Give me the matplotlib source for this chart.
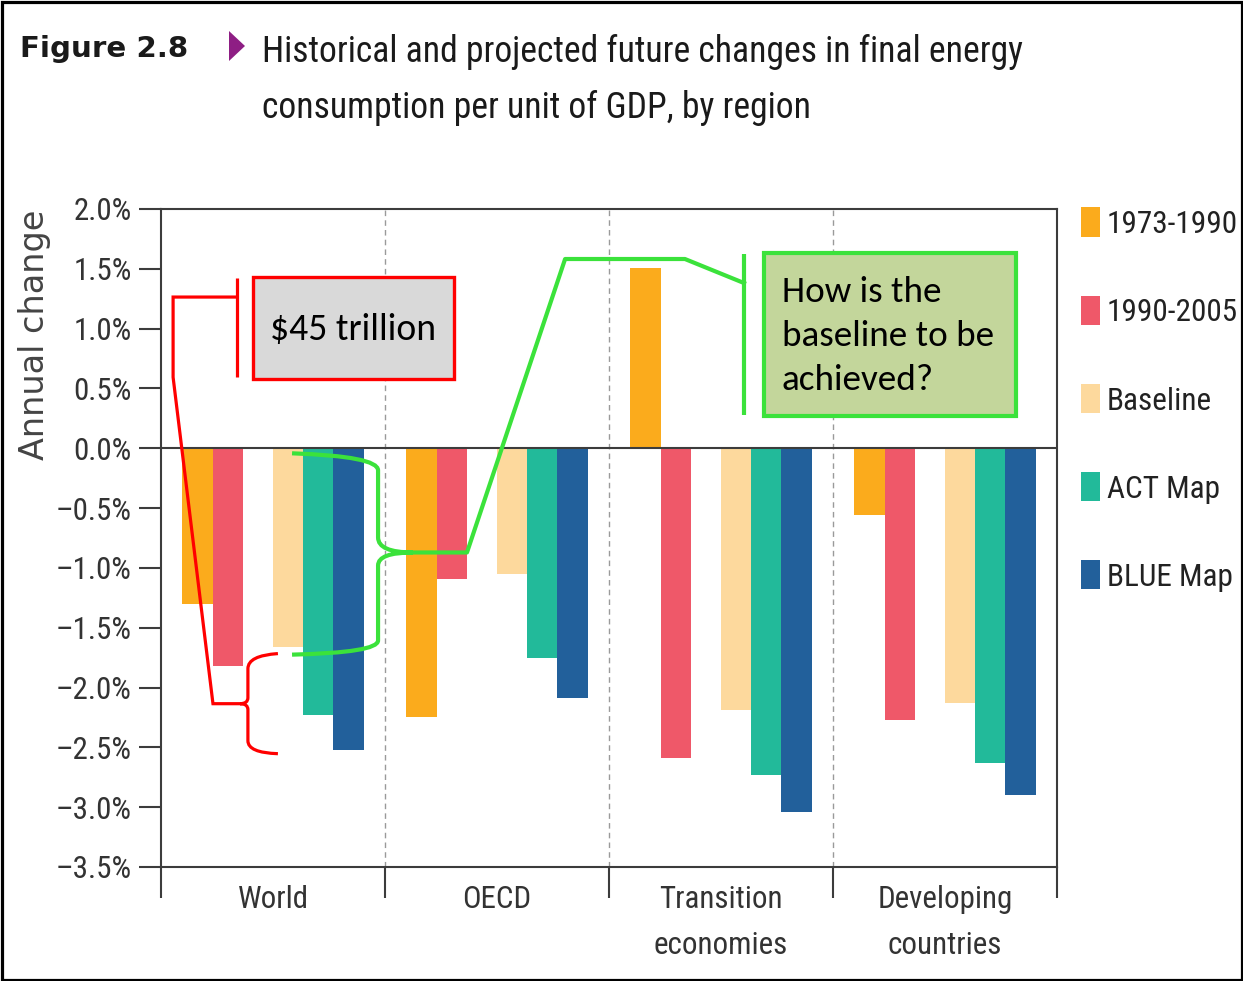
import os
import numpy as np
import matplotlib
matplotlib.use('Agg')
import matplotlib.pyplot as plt
from matplotlib import font_manager as fm
from matplotlib.patches import Rectangle, Polygon, PathPatch
from matplotlib.path import Path

# ---------------- data ----------------
categories = ['World', 'OECD', 'Transition\neconomies', 'Developing\ncountries']
series_names = ['1973-1990', '1990-2005', 'Baseline', 'ACT Map', 'BLUE Map']
v_1973_1990 = [-1.30, -2.25, 1.51, -0.56]
v_1990_2005 = [-1.82, -1.09, -2.59, -2.27]
v_baseline = [-1.66, -1.05, -2.19, -2.13]
v_act_map = [-2.23, -1.75, -2.73, -2.63]
v_blue_map = [-2.52, -2.09, -3.04, -2.90]
series_values = [v_1973_1990, v_1990_2005, v_baseline, v_act_map, v_blue_map]
colors = ['#FBAB1C', '#EF5869', '#FDD99D', '#22BA9A', '#22609B']
y_ticks = [2.0, 1.5, 1.0, 0.5, 0.0, -0.5, -1.0, -1.5, -2.0, -2.5, -3.0, -3.5]
y_tick_labels = ['2.0%', '1.5%', '1.0%', '0.5%', '0.0%', '\u20130.5%', '\u20131.0%',
                 '\u20131.5%', '\u20132.0%', '\u20132.5%', '\u20133.0%', '\u20133.5%']
title_tag = 'Figure 2.8'
title_lines = ['Historical and projected future changes in final energy',
               'consumption per unit of GDP, by region']
y_label = 'Annual change'
note_red = '$45 trillion'
note_green = ['How is the', 'baseline to be', 'achieved?']

# ---------------- fonts ----------------
names = {f.name for f in fm.fontManager.ttflist}


def pick_condensed():
    prefs = ['Liberation Sans Narrow', 'Open Sans', 'Roboto', 'Noto Sans', 'DejaVu Sans', 'Lato', 'Inter']
    cands = []
    bad = ['bold', 'light', 'italic', 'oblique', 'medium', 'semibold', 'thin', 'black', 'extra', 'ultra', 'heavy']
    for f in fm.fontManager.ttflist:
        st = str(f.stretch).lower()
        base = os.path.basename(f.fname).lower()
        nm = f.name.lower()
        cond = ('condensed' in st or 'narrow' in st or 'condensed' in nm or 'narrow' in nm
                or 'condensed' in base or 'narrow' in base)
        if not cond:
            continue
        if f.style != 'normal' or any(b in base for b in bad) or 'extra' in st or 'ultra' in st:
            continue
        try:
            w = int(f.weight)
        except Exception:
            w = {'normal': 400, 'regular': 400, 'book': 400}.get(str(f.weight).lower(), 700)
        if w != 400:
            continue
        rank = len(prefs)
        for i, p in enumerate(prefs):
            if f.name.startswith(p):
                rank = i
                break
        semi = 1 if ('semi' in st or 'semi' in base) else 0
        cands.append((rank, semi, f.fname))
    if cands:
        cands.sort()
        return fm.FontProperties(fname=cands[0][2])
    return fm.FontProperties(family='DejaVu Sans')


fp_cond = pick_condensed()
fp_cal = fm.FontProperties(family='Carlito' if 'Carlito' in names else ('Lato' if 'Lato' in names else 'DejaVu Sans'))
fp_geo = fm.FontProperties(family='DejaVu Sans')
fp_bold = fm.FontProperties(family='DejaVu Sans', weight='bold')


def F(fp, size):
    p = fp.copy()
    p.set_size(size)
    return p


W, H = 1243, 981
fig = plt.figure(figsize=(W / 100, H / 100), dpi=100)
renderer = fig.canvas.get_renderer()


def size_for(text, fp, target_px):
    t = fig.text(0, 0, text, fontproperties=F(fp, 20))
    w = t.get_window_extent(renderer).width
    t.remove()
    return 20.0 * target_px / w


def fx(px):
    return px / W


def fy(py):
    return 1 - py / H


# ---------------- axes ----------------
ax = fig.add_axes([fx(161), fy(867), (1057 - 161) / W, (867 - 209) / H])
ax.set_xlim(0, 4)
ax.set_ylim(-3.5, 2.0)

n_groups = len(categories)
centers = np.arange(n_groups) + 0.5
w = 30.2 / 224.0
slot_offsets = [-2.5, -1.5, 0.5, 1.5, 2.5]
for vals, c, off, nm in zip(series_values, colors, slot_offsets, series_names):
    ax.bar(centers + off * w, vals, width=w, color=c, linewidth=0, zorder=2, label=nm)

axis_col = '#3c3c3c'
for s in ax.spines.values():
    s.set_color(axis_col)
    s.set_linewidth(1.5)
ax.axhline(0, color=axis_col, lw=1.5, zorder=3)
for xb in range(1, n_groups):
    ax.axvline(xb, color='#9a9a9a', lw=1.0, ls=(0, (4, 3)), zorder=0.5)

s_tick = size_for('\u20130.5%', fp_cond, 76)
ax.set_yticks(y_ticks, y_tick_labels, fontproperties=F(fp_cond, s_tick), color='#333333')
ax.tick_params(axis='y', direction='out', length=16, width=1.5, color=axis_col, pad=5)

ax.set_xticks(np.arange(n_groups + 1), [''] * (n_groups + 1))
ax.tick_params(axis='x', which='major', direction='out', length=22, width=1.5, color=axis_col)
ax.set_xticks(centers, categories, minor=True, fontproperties=F(fp_cond, s_tick),
              color='#333333', linespacing=1.72)
ax.tick_params(axis='x', which='minor', length=0, pad=13)

# ---------------- annotations (data coordinates) ----------------
red = '#FF0000'
green = '#3BE23B'

# red bracket + line
ax.plot([0.339, 0.339], [1.423, 0.594], color=red, lw=2.3, zorder=10, clip_on=False,
        solid_capstyle='butt')
ax.plot([0.339, 0.054, 0.054, 0.232, 0.353], [1.264, 1.264, 0.594, -2.135, -2.135],
        color=red, lw=2.3, zorder=10, clip_on=False, solid_joinstyle='miter')
red_brace = Path(
    [(0.522, -1.716), (0.388, -1.733), (0.388, -1.842), (0.388, -2.085),
     (0.388, -2.135), (0.353, -2.135), (0.388, -2.135), (0.388, -2.185),
     (0.388, -2.445), (0.388, -2.545), (0.522, -2.553)],
    [Path.MOVETO, Path.CURVE3, Path.CURVE3, Path.LINETO,
     Path.CURVE3, Path.CURVE3, Path.CURVE3, Path.CURVE3,
     Path.LINETO, Path.CURVE3, Path.CURVE3])
ax.add_patch(PathPatch(red_brace, fill=False, edgecolor=red, lw=2.3, zorder=10, clip_on=False))
ax.add_patch(Rectangle((0.411, 0.578), 1.308 - 0.411, 1.432 - 0.578, facecolor='#D9D9D9',
                       edgecolor=red, lw=2.4, zorder=11, clip_on=False))
s_red = size_for(note_red, fp_cal, 166)
ax.text(0.857, 0.996, note_red, ha='center', va='center', fontproperties=F(fp_cal, s_red),
        color='black', zorder=12, parse_math=False)

# green bracket + line
ax.plot([2.603, 2.603], [1.624, 0.276], color=green, lw=3.0, zorder=10, clip_on=False,
        solid_capstyle='butt')
ax.plot([2.603, 2.339, 1.804, 1.366, 1.125], [1.381, 1.582, 1.582, -0.871, -0.871],
        color=green, lw=3.0, zorder=10, clip_on=False)
green_brace = Path(
    [(0.585, -0.042), (0.969, -0.067), (0.969, -0.184), (0.969, -0.745),
     (0.969, -0.871), (1.125, -0.871), (0.969, -0.871), (0.969, -0.980),
     (0.969, -1.607), (0.969, -1.708), (0.585, -1.725)],
    [Path.MOVETO, Path.CURVE3, Path.CURVE3, Path.LINETO,
     Path.CURVE3, Path.CURVE3, Path.CURVE3, Path.CURVE3,
     Path.LINETO, Path.CURVE3, Path.CURVE3])
ax.add_patch(PathPatch(green_brace, fill=False, edgecolor=green, lw=3.0, zorder=10, clip_on=False))
ax.add_patch(Rectangle((2.692, 0.268), 3.817 - 2.692, 1.632 - 0.268, facecolor='#C3D69B',
                       edgecolor=green, lw=3.0, zorder=11, clip_on=False))
s_green = size_for(note_green[1], fp_cal, 212)
for line, yv in zip(note_green, [1.306, 0.938, 0.569]):
    ax.text(2.772, yv, line, ha='left', va='center', fontproperties=F(fp_cal, s_green),
            color='black', zorder=12)

# ---------------- titles ----------------
s_tag = size_for(title_tag, fp_bold, 168)
fig.text(fx(20), fy(57), title_tag, ha='left', va='baseline', fontproperties=F(fp_bold, s_tag),
         color='#1a1a1a')
fig.add_artist(Polygon([(fx(229), fy(31)), (fx(229), fy(61)), (fx(245), fy(46))],
                       closed=True, facecolor='#8E1E84', edgecolor='none', transform=fig.transFigure))
s_title = size_for(title_lines[0], fp_cond, 760)
fig.text(fx(262), fy(62), title_lines[0], ha='left', va='baseline',
         fontproperties=F(fp_cond, s_title), color='#1a1a1a')
fig.text(fx(262), fy(118), title_lines[1], ha='left', va='baseline',
         fontproperties=F(fp_cond, s_title), color='#1a1a1a')

s_ylab = size_for(y_label, fp_geo, 250)
fig.text(fx(35), fy(335), y_label, rotation=90, ha='center', va='center',
         fontproperties=F(fp_geo, s_ylab), color='#444444')

# ---------------- legend ----------------
s_leg = size_for('1990-2005', fp_cond, 131)
cap = 0.72 * s_leg * 100 / 72
for i, (nm, c) in enumerate(zip(series_names, colors)):
    cy = 222 + i * 88.2
    fig.add_artist(Rectangle((fx(1081), fy(cy + 14.5)), 19 / W, 29 / H, facecolor=c,
                             edgecolor='none', transform=fig.transFigure))
    fig.text(fx(1107), fy(cy + cap / 2), nm, ha='left', va='baseline',
             fontproperties=F(fp_cond, s_leg), color='#222222')

# figure border
fig.add_artist(Rectangle((1.5 / W, 1.5 / H), 1 - 3 / W, 1 - 3 / H, transform=fig.transFigure,
                         fill=False, edgecolor='black', lw=2.3, zorder=100))

fig.savefig('out.png', dpi=100)
